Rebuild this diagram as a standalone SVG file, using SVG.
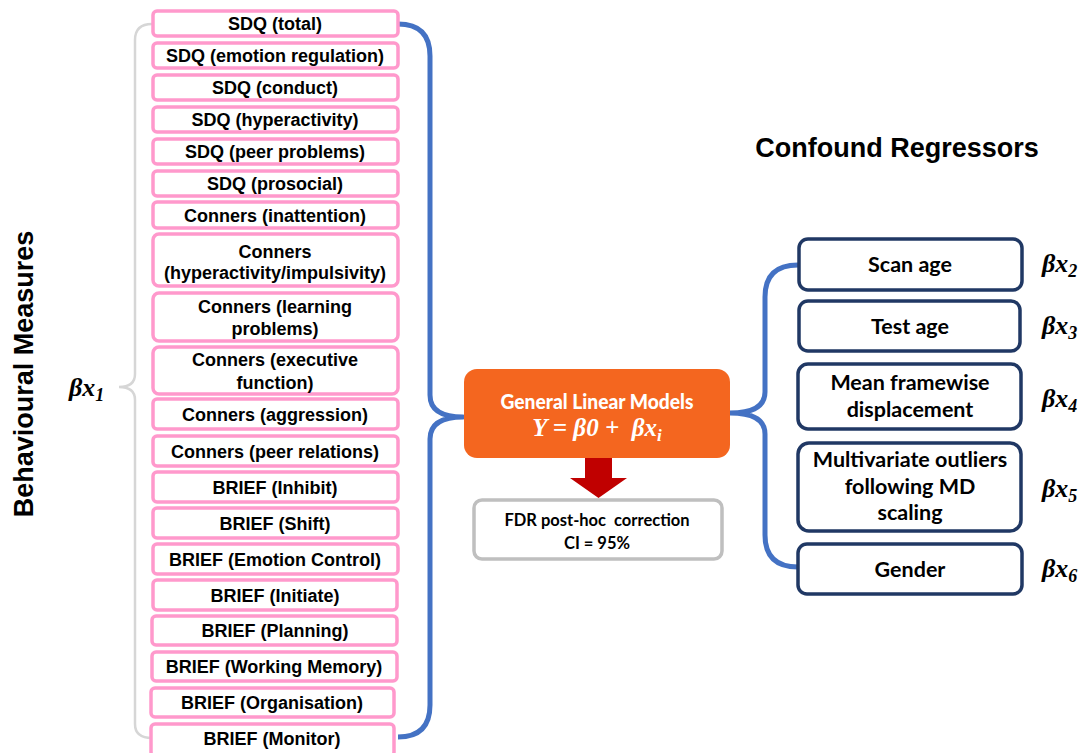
<svg xmlns="http://www.w3.org/2000/svg" width="1087" height="753" viewBox="0 0 1087 753">
  <defs>
    <style>
      .pink rect { fill: #fff; stroke: #FF99CC; stroke-width: 3.5; }
      .pink text { font-family: "Liberation Sans", Arial, sans-serif; font-weight: bold; font-size: 18px; fill: #000; text-anchor: middle; }
      .navy rect { fill: #fff; stroke: #203864; stroke-width: 3.5; }
      .navy text { font-family: Lato, "Open Sans", sans-serif; font-weight: bold; font-size: 21.5px; fill: #000; text-anchor: middle; }
      .beta { font-family: "Liberation Serif", "DejaVu Serif", serif; font-weight: bold; font-style: italic; font-size: 26px; fill: #000; }
      .title { font-family: "Liberation Sans", Arial, sans-serif; font-weight: bold; font-size: 27px; fill: #000; }
      .brace-blue { fill: none; stroke: #4472C4; stroke-width: 5; stroke-linejoin: round; }
      .brace-gray { fill: none; stroke: #D6D6D6; stroke-width: 2.5; }
    </style>
  </defs>
  <rect width="1087" height="753" fill="#fff"/>

  <!-- headings -->
  <text class="title" transform="translate(33,374) rotate(-90)" text-anchor="middle" font-size="26">Behavioural Measures</text>
  <text class="title" x="897" y="157" text-anchor="middle">Confound Regressors</text>

  <!-- connectors: braces -->
  <g id="connectors">
    <path class="brace-gray" d="M152,24 Q135,24 135,40 L135,374 Q135,387 119,387 Q135,387 135,400 L135,724 Q135,738 152,738"/>
    <path class="brace-blue" d="M398,24 Q430,24 430,56 L430,395 Q430,417 463,417 Q430,417 430,439 L430,705 Q430,737 398,737"/>
    <path class="brace-blue" d="M798,265 Q765,265 765,297 L765,392 Q765,413 730,413 Q765,413 765,434 L765,535 Q765,567 798,567"/>
  </g>

  <!-- beta label for behavioural measures -->
  <text class="beta" x="69" y="396">βx<tspan font-size="18" dy="5">1</tspan></text>

  <!-- behavioural measures -->
  <g class="pink">
    <g id="sdq-total"><rect x="153" y="11" width="245" height="25" rx="4"/><text x="275" y="30">SDQ (total)</text></g>
    <g id="sdq-emotion"><rect x="153" y="43" width="245" height="25" rx="4"/><text x="275" y="62">SDQ (emotion regulation)</text></g>
    <g id="sdq-conduct"><rect x="153" y="75" width="245" height="25" rx="4"/><text x="275" y="94">SDQ (conduct)</text></g>
    <g id="sdq-hyper"><rect x="153" y="107" width="245" height="25" rx="4"/><text x="275" y="126">SDQ (hyperactivity)</text></g>
    <g id="sdq-peer"><rect x="153" y="139" width="245" height="25" rx="4"/><text x="275" y="158">SDQ (peer problems)</text></g>
    <g id="sdq-prosocial"><rect x="153" y="171" width="245" height="25" rx="4"/><text x="275" y="190">SDQ (prosocial)</text></g>
    <g id="conners-inattention"><rect x="153" y="202" width="245" height="26" rx="4"/><text x="275" y="222">Conners (inattention)</text></g>
    <g id="conners-hyper"><rect x="153" y="234" width="245" height="52" rx="6"/><text x="275" y="258">Conners</text><text x="275" y="279" font-size="17">(hyperactivity/impulsivity)</text></g>
    <g id="conners-learning"><rect x="153" y="293" width="245" height="48" rx="6"/><text x="275" y="313">Conners (learning</text><text x="275" y="335">problems)</text></g>
    <g id="conners-executive"><rect x="153" y="347" width="245" height="47" rx="6"/><text x="275" y="366">Conners (executive</text><text x="275" y="389">function)</text></g>
    <g id="conners-aggression"><rect x="153" y="399" width="245" height="30" rx="4"/><text x="275" y="421">Conners (aggression)</text></g>
    <g id="conners-peer"><rect x="153" y="436" width="245" height="30" rx="4"/><text x="275" y="458">Conners (peer relations)</text></g>
    <g id="brief-inhibit"><rect x="153" y="472" width="245" height="30" rx="4"/><text x="275" y="494">BRIEF (Inhibit)</text></g>
    <g id="brief-shift"><rect x="153" y="508" width="245" height="30" rx="4"/><text x="275" y="530">BRIEF (Shift)</text></g>
    <g id="brief-emotion"><rect x="153" y="544" width="245" height="30" rx="4"/><text x="275" y="566">BRIEF (Emotion Control)</text></g>
    <g id="brief-initiate"><rect x="153" y="580" width="244" height="30" rx="4"/><text x="275" y="602">BRIEF (Initiate)</text></g>
    <g id="brief-planning"><rect x="152" y="616" width="245" height="29" rx="4"/><text x="275" y="637">BRIEF (Planning)</text></g>
    <g id="brief-working"><rect x="152" y="652" width="245" height="29" rx="4"/><text x="274" y="673">BRIEF (Working Memory)</text></g>
    <g id="brief-organisation"><rect x="151" y="688" width="243" height="29" rx="4"/><text x="272" y="709">BRIEF (Organisation)</text></g>
    <g id="brief-monitor"><rect x="151" y="724" width="243" height="32" rx="4"/><text x="272" y="745">BRIEF (Monitor)</text></g>
  </g>

  <!-- model -->
  <g id="glm">
    <rect x="464" y="369" width="266" height="89" rx="13" fill="#F4661F"/>
    <text x="597" y="409" text-anchor="middle" font-family="Lato, 'Open Sans', sans-serif" font-weight="900" font-size="21" fill="#fff" textLength="193" lengthAdjust="spacingAndGlyphs">General Linear Models</text>
    <text x="597" y="436" text-anchor="middle" font-family="'Liberation Serif', 'DejaVu Serif', serif" font-weight="bold" font-style="italic" font-size="25" fill="#fff" style="white-space:pre">Y = β0 +  βx<tspan font-size="17" dy="5">i</tspan></text>
  </g>

  <!-- arrow to correction -->
  <g id="arrow">
    <polygon points="585,458 612,458 612,478 627,478 598.5,498 570,478 585,478" fill="#C00000"/>
  </g>

  <g id="fdr">
    <rect x="474" y="500" width="248" height="59" rx="8" fill="#fff" stroke="#BFBFBF" stroke-width="3.5"/>
    <text x="597" y="526" text-anchor="middle" font-family="Lato, 'Open Sans', sans-serif" font-weight="bold" font-size="16.5" fill="#000" style="white-space:pre">FDR post-hoc  correction</text>
    <text x="597" y="549" text-anchor="middle" font-family="Lato, 'Open Sans', sans-serif" font-weight="bold" font-size="16.5" fill="#000">CI = 95%</text>
  </g>

  <!-- confound regressors -->
  <g class="navy">
    <g id="scan-age"><rect x="799" y="239" width="223" height="51" rx="9"/><text x="910" y="272">Scan age</text></g>
    <g id="test-age"><rect x="799" y="301" width="221" height="50" rx="9"/><text x="910" y="334">Test age</text></g>
    <g id="mean-fd"><rect x="798" y="364" width="223" height="65" rx="10"/><text x="910" y="390">Mean framewise</text><text x="910" y="417">displacement</text></g>
    <g id="outliers"><rect x="798" y="443" width="223" height="88" rx="11"/><text x="910" y="467">Multivariate outliers</text><text x="910" y="494">following MD</text><text x="910" y="520">scaling</text></g>
    <g id="gender"><rect x="798" y="544" width="224" height="50" rx="9"/><text x="910" y="577">Gender</text></g>
  </g>

  <!-- regressor betas -->
  <text class="beta" x="1042" y="272">βx<tspan font-size="18" dy="5">2</tspan></text>
  <text class="beta" x="1042" y="334">βx<tspan font-size="18" dy="5">3</tspan></text>
  <text class="beta" x="1042" y="407">βx<tspan font-size="18" dy="5">4</tspan></text>
  <text class="beta" x="1042" y="497">βx<tspan font-size="18" dy="5">5</tspan></text>
  <text class="beta" x="1042" y="577">βx<tspan font-size="18" dy="5">6</tspan></text>
</svg>
